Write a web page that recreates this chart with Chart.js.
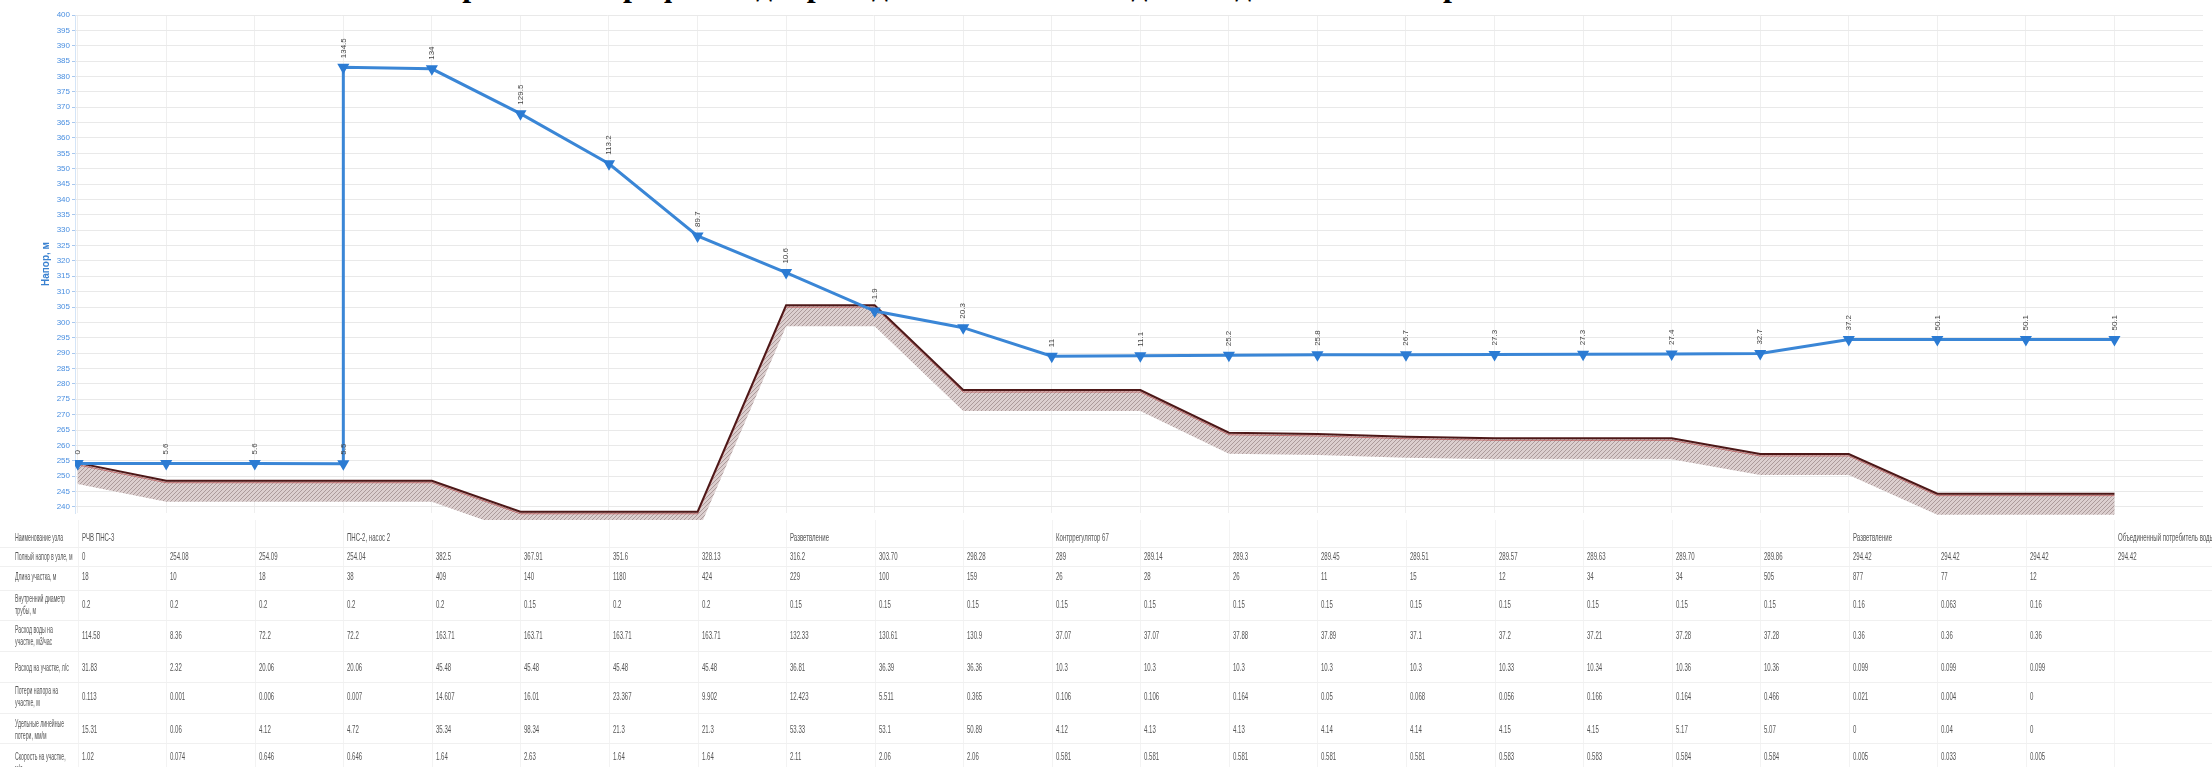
<!DOCTYPE html>
<html>
<head>
<meta charset="utf-8">
<script src="https://cdn.jsdelivr.net/npm/chart.js@4.4.0/dist/chart.umd.min.js"></script>
<style>
html, body { margin: 0; padding: 0; background: #fff; overflow: hidden; }
#wrap { position: relative; width: 2212px; height: 767px; overflow: hidden; }
#title { position: absolute; left: 326px; top: -31px; font: bold 32px "Liberation Serif", serif; line-height: 32px; white-space: nowrap; color: #000; }
#box { position: absolute; left: 0; top: 0; width: 2212px; height: 520px; }
#table { position: absolute; left: 0; top: 0; width: 2212px; height: 767px; }
.cell { position: absolute; font: 11px "Liberation Sans", Arial, sans-serif; color: #555; white-space: pre; line-height: 12px;
        transform: translateY(-50%) scaleX(0.55); transform-origin: 0 50%; }
.lab { transform: translateY(-50%) scaleX(0.47); }
.hl { position: absolute; left: 0; width: 2212px; height: 1px; background: #f0f0f0; }
.vl { position: absolute; top: 520px; width: 1px; height: 247px; background: #f3f3f3; }
</style>
</head>
<body>
<div id="wrap">
  <div id="title">Пьезометрический график водопровода от РЧВ ПНС-3 до объединенного потребителя</div>
  <div id="box"><canvas id="profileChart"></canvas></div>
  <div id="table"></div>
</div>
<script>
// узлы по трассе (номер столбца)
const nodeIndex = [0, 1, 2, 3, 4, 5, 6, 7, 8, 9, 10, 11, 12, 13, 14, 15, 16, 17, 18, 19, 20, 21, 22, 23];

// пьезометрическая линия (в узле 3 насос - скачок напора)
const headX = [0, 1, 2, 3, 3, 4, 5, 6, 7, 8, 9, 10, 11, 12, 13, 14, 15, 16, 17, 18, 19, 20, 21, 22, 23];
const headY = [254.1, 254.08, 254.09, 254.04, 383, 382.5, 367.91, 351.6, 328.13, 316.2, 303.7, 298.28, 289,
               289.14, 289.3, 289.45, 289.51, 289.57, 289.63, 289.7, 289.86, 294.42, 294.42, 294.42, 294.42];
const freeHead = ['0', '5.6', '5.6', '5.5', '134.5', '134', '129.5', '113.2', '89.7', '10.6', '-1.9', '20.3', '11',
                  '11.1', '25.2', '25.8', '26.7', '27.3', '27.3', '27.4', '32.7', '37.2', '50.1', '50.1', '50.1'];

// отметки земли
const groundY = [254.3, 248.5, 248.5, 248.5, 248.5, 238.4, 238.4, 238.4, 305.6, 305.6, 278, 278, 278,
                 264.1, 263.7, 262.8, 262.3, 262.3, 262.3, 257.2, 257.2, 244.3, 244.3, 244.3];

const yTicks = [240, 245, 250, 255, 260, 265, 270, 275, 280, 285, 290, 295, 300, 305, 310, 315, 320,
                325, 330, 335, 340, 345, 350, 355, 360, 365, 370, 375, 380, 385, 390, 395, 400];

// таблица под графиком
const rowLabels = [
  'Наименование узла',
  'Полный напор в узле, м',
  'Длина участка, м',
  'Внутренний диаметр\nтрубы, м',
  'Расход воды на\nучастке, м3/час',
  'Расход на участке, л/с',
  'Потери напора на\nучастке, м',
  'Удельные линейные\nпотери, мм/м',
  'Скорость на участке,\nм/с'
];
const nodeNames = ['РЧВ ПНС-3', '', '', 'ПНС-2, насос 2', '', '', '', '', 'Разветвление', '', '', 'Контррегулятор 67',
                   '', '', '', '', '', '', '', '', 'Разветвление', '', '', 'Объединенный потребитель воды'];
const fullHead = ['0', '254.08', '254.09', '254.04', '382.5', '367.91', '351.6', '328.13', '316.2', '303.70', '298.28', '289',
                  '289.14', '289.3', '289.45', '289.51', '289.57', '289.63', '289.70', '289.86', '294.42', '294.42', '294.42', '294.42'];
const pipeLength = ['18', '10', '18', '38', '409', '140', '1180', '424', '229', '100', '159', '26',
                    '28', '26', '11', '15', '12', '34', '34', '505', '877', '77', '12', ''];
const innerDiam = ['0.2', '0.2', '0.2', '0.2', '0.2', '0.15', '0.2', '0.2', '0.15', '0.15', '0.15', '0.15',
                   '0.15', '0.15', '0.15', '0.15', '0.15', '0.15', '0.15', '0.15', '0.16', '0.063', '0.16', ''];
const flowM3h = ['114.58', '8.36', '72.2', '72.2', '163.71', '163.71', '163.71', '163.71', '132.33', '130.61', '130.9', '37.07',
                 '37.07', '37.88', '37.89', '37.1', '37.2', '37.21', '37.28', '37.28', '0.36', '0.36', '0.36', ''];
const flowLps = ['31.83', '2.32', '20.06', '20.06', '45.48', '45.48', '45.48', '45.48', '36.81', '36.39', '36.36', '10.3',
                 '10.3', '10.3', '10.3', '10.3', '10.33', '10.34', '10.36', '10.36', '0.099', '0.099', '0.099', ''];
const headLoss = ['0.113', '0.001', '0.006', '0.007', '14.607', '16.01', '23.367', '9.902', '12.423', '5.511', '0.365', '0.106',
                  '0.106', '0.164', '0.05', '0.068', '0.056', '0.166', '0.164', '0.466', '0.021', '0.004', '0', ''];
const specLoss = ['15.31', '0.06', '4.12', '4.72', '35.34', '98.34', '21.3', '21.3', '53.33', '53.1', '50.89', '4.12',
                  '4.13', '4.13', '4.14', '4.14', '4.15', '4.15', '5.17', '5.07', '0', '0.04', '0', ''];
const velocity = ['1.02', '0.074', '0.646', '0.646', '1.64', '2.63', '1.64', '1.64', '2.11', '2.06', '2.06', '0.581',
                  '0.581', '0.581', '0.581', '0.581', '0.583', '0.583', '0.584', '0.584', '0.005', '0.033', '0.005', ''];
const tableRows = [nodeNames, fullHead, pipeLength, innerDiam, flowM3h, flowLps, headLoss, specLoss, velocity];
const rowCenters = [537, 556, 576, 604, 635, 667, 696, 729, 756];
const labelCenters = [537, 556, 576, 604, 635, 667, 696, 729, 762];

// штриховка под линией земли
function hatch() {
  const c = document.createElement('canvas');
  c.width = 4; c.height = 4;
  const g = c.getContext('2d');
  g.fillStyle = '#dccfcf';
  g.fillRect(0, 0, 4, 4);
  g.strokeStyle = '#ac9b9b';
  g.lineWidth = 1;
  g.beginPath();
  g.moveTo(0, 4); g.lineTo(4, 0);
  g.moveTo(-1, 1); g.lineTo(1, -1);
  g.moveTo(3, 5); g.lineTo(5, 3);
  g.stroke();
  return g.createPattern(c, 'repeat');
}

const groundBand = {
  id: 'groundBand',
  beforeDatasetsDraw(chart) {
    const pts = chart.getDatasetMeta(1).data;
    const ctx = chart.ctx;
    ctx.save();
    ctx.beginPath();
    pts.forEach((p, i) => i ? ctx.lineTo(p.x, p.y) : ctx.moveTo(p.x, p.y));
    for (let i = pts.length - 1; i >= 0; i--) ctx.lineTo(pts[i].x, pts[i].y + 21);
    ctx.closePath();
    ctx.fillStyle = hatch();
    ctx.fill();
    ctx.beginPath();
    pts.forEach((p, i) => i ? ctx.lineTo(p.x, p.y + 2) : ctx.moveTo(p.x, p.y + 2));
    ctx.strokeStyle = 'rgba(190, 90, 90, 0.8)';
    ctx.lineWidth = 1;
    ctx.stroke();
    ctx.restore();
  }
};

const pointLabels = {
  id: 'pointLabels',
  afterDatasetsDraw(chart) {
    const ctx = chart.ctx;
    ctx.save();
    ctx.font = '8px "Liberation Sans", Arial, sans-serif';
    ctx.fillStyle = '#444';
    ctx.textAlign = 'left';
    ctx.textBaseline = 'middle';
    chart.getDatasetMeta(0).data.forEach((p, i) => {
      ctx.save();
      ctx.translate(p.x, p.y - 9);
      ctx.rotate(-Math.PI / 2);
      ctx.fillText(freeHead[i], 0, 0);
      ctx.restore();
    });
    ctx.restore();
  }
};

const ctx = document.getElementById('profileChart').getContext('2d');
const profileChart = new Chart(ctx, {
  type: 'line',
  data: {
    datasets: [{
      label: 'Напор',
      data: headX.map((x, i) => ({ x: x, y: headY[i] })),
      borderColor: '#3a86d6',
      borderWidth: 3,
      pointStyle: 'triangle',
      rotation: 180,
      pointRadius: 4,
      pointBackgroundColor: '#2b7bd3',
      pointBorderColor: '#2b7bd3',
      tension: 0
    }, {
      label: 'Земля',
      data: nodeIndex.map(i => ({ x: i, y: groundY[i] })),
      borderColor: '#4d1818',
      borderWidth: 2,
      pointRadius: 0,
      tension: 0
    }]
  },
  options: {
    responsive: true,
    maintainAspectRatio: false,
    animation: false,
    devicePixelRatio: 1,
    layout: { padding: { left: 40, right: 9, top: 15, bottom: 6 } },
    plugins: { legend: { display: false }, tooltip: { enabled: false } },
    scales: {
      x: {
        type: 'linear',
        min: -0.03,
        max: 24,
        afterBuildTicks: s => { s.ticks = nodeIndex.map(v => ({ value: v })); },
        afterFit: s => { s.height = 0; },
        ticks: { display: false },
        grid: { color: '#efefef', drawTicks: false },
        border: { display: false }
      },
      y: {
        min: 238,
        max: 400,
        afterBuildTicks: s => { s.ticks = yTicks.map(v => ({ value: v })); },
        afterFit: s => { s.width = 35; },
        ticks: { color: '#4a8fe0', font: { size: 8 }, padding: 2 },
        grid: { color: '#e9e9e9', tickLength: 3, tickColor: '#a9c8ee' },
        border: { color: '#d5e5f7' },
        title: { display: true, text: 'Напор, м', color: '#3b82d0', font: { size: 10, weight: 'bold' }, padding: 0 }
      }
    }
  },
  plugins: [groundBand, pointLabels]
});

// таблица по позициям узлов на оси x
const table = document.getElementById('table');
const xs = profileChart.scales.x;
function addDiv(cls, css, text) {
  const d = document.createElement('div');
  d.className = cls;
  Object.assign(d.style, css);
  if (text !== undefined) d.textContent = text;
  table.appendChild(d);
}
nodeIndex.forEach(i => addDiv('vl', { left: Math.round(xs.getPixelForValue(i)) + 'px' }));
for (let r = 0; r < rowCenters.length - 1; r++) {
  addDiv('hl', { top: Math.round((rowCenters[r] + rowCenters[r + 1]) / 2) + 'px' });
}
tableRows.forEach((vals, r) => {
  addDiv('cell lab', { left: '15px', top: labelCenters[r] + 'px' }, rowLabels[r]);
  vals.forEach((v, i) => {
    if (v !== '') addDiv('cell', { left: (xs.getPixelForValue(i) + 4) + 'px', top: rowCenters[r] + 'px' }, v);
  });
});
</script>
</body>
</html>
